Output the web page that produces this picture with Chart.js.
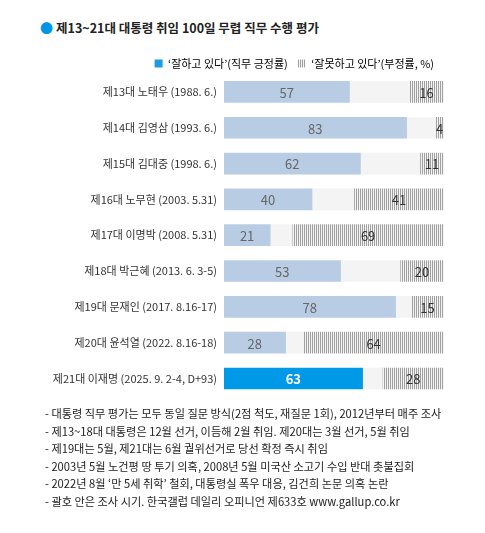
<!DOCTYPE html>
<html><head><meta charset="utf-8">
<script src="https://cdn.jsdelivr.net/npm/chart.js@4"></script>
<style>
html,body{margin:0;padding:0;background:#fff;width:485px;height:533px;overflow:hidden;font-family:"Noto Sans CJK KR","Noto Sans",sans-serif;}
#title{position:absolute;left:40px;top:18px;font-size:12.5px;font-weight:bold;color:#222;white-space:nowrap;}
#title .dot{color:#0096e6;font-size:13px;margin-right:3px;}
#wrap{position:absolute;left:0;top:44px;width:485px;height:366px;}
#notes{position:absolute;left:45px;top:405px;font-size:11.2px;color:#222;line-height:17.6px;white-space:nowrap;}
</style></head><body>
<div id="title"><span class="dot">●</span>제13~21대 대통령 취임 100일 무렵 직무 수행 평가</div>
<div id="wrap"><canvas id="c"></canvas></div>
<div id="notes">
<div>- 대통령 직무 평가는 모두 동일 질문 방식(2점 척도, 재질문 1회), 2012년부터 매주 조사</div>
<div>- 제13~18대 대통령은 12월 선거, 이듬해 2월 취임. 제20대는 3월 선거, 5월 취임</div>
<div>- 제19대는 5월, 제21대는 6월 궐위선거로 당선 확정 즉시 취임</div>
<div>- 2003년 5월 노건평 땅 투기 의혹, 2008년 5월 미국산 소고기 수입 반대 촛불집회</div>
<div>- 2022년 8월 ‘만 5세 취학’ 철회, 대통령실 폭우 대응, 김건희 논문 의혹 논란</div>
<div>- 괄호 안은 조사 시기. 한국갤럽 데일리 오피니언 제633호 www.gallup.co.kr</div>
</div>
<script>
const categories = [
  "제13대 노태우 (1988. 6.)",
  "제14대 김영삼 (1993. 6.)",
  "제15대 김대중 (1998. 6.)",
  "제16대 노무현 (2003. 5.31)",
  "제17대 이명박 (2008. 5.31)",
  "제18대 박근혜 (2013. 6. 3-5)",
  "제19대 문재인 (2017. 8.16-17)",
  "제20대 윤석열 (2022. 8.16-18)",
  "제21대 이재명 (2025. 9. 2-4, D+93)"
];
const positive = [57, 83, 62, 40, 21, 53, 78, 28, 63];
const negative = [16, 4, 11, 41, 69, 20, 15, 64, 28];
const seriesNames = ["‘잘하고 있다’(직무 긍정률)", "‘잘못하고 있다’(부정률, %)"];

const gap = positive.map((p, i) => 100 - p - negative[i]);

function hatch() {
  const cv = document.createElement('canvas');
  cv.width = 2; cv.height = 2;
  const g = cv.getContext('2d');
  g.fillStyle = '#f4f4f4'; g.fillRect(0, 0, 2, 2);
  g.fillStyle = '#a0a0a0'; g.fillRect(0, 0, 1, 2);
  return g.createPattern(cv, 'repeat');
}
const hatchPat = hatch();
const posColors = positive.map((v, i) => i === positive.length - 1 ? '#0099e8' : '#b8cce4');

const labelPlugin = {
  id: 'vals',
  afterDatasetsDraw(chart) {
    const ctx = chart.ctx;
    ctx.save();
    ctx.textAlign = 'center';
    ctx.textBaseline = 'middle';
    [0, 2].forEach(di => {
      const meta = chart.getDatasetMeta(di);
      const data = chart.data.datasets[di].data;
      meta.data.forEach((el, i) => {
        const last = i === data.length - 1;
        if (di === 0 && last) {
          ctx.fillStyle = '#ffffff';
          ctx.font = 'bold 13px "Noto Sans CJK KR", sans-serif';
        } else {
          ctx.fillStyle = di === 0 ? '#666666' : '#333333';
          ctx.font = '13px "Noto Sans CJK KR", sans-serif';
        }
        const x = (el.x + el.base) / 2;
        ctx.fillText(String(data[i]), x, el.y + 1);
      });
    });
    ctx.restore();
  }
};

const legendShrink = {
  id: 'legendShrink',
  afterInit(chart) {
    const lg = chart.legend;
    if (!lg) return;
    const fit = lg.fit;
    lg.fit = function () { fit.call(this); this.height -= 5; };
  }
};

new Chart(document.getElementById('c'), {
  type: 'bar',
  data: {
    labels: categories,
    datasets: [
      { label: seriesNames[0], data: positive, backgroundColor: posColors, barThickness: 21 },
      { label: 'gap', data: gap, backgroundColor: '#f4f4f4', barThickness: 21 },
      { label: seriesNames[1], data: negative, backgroundColor: hatchPat, barThickness: 21 }
    ]
  },
  options: {
    indexAxis: 'y',
    responsive: true,
    maintainAspectRatio: false,
    animation: false,
    layout: { padding: { left: 0, right: 41, top: 4, bottom: 0 } },
    scales: {
      x: { stacked: true, min: 0, max: 100, display: false },
      y: {
        stacked: true,
        grid: { display: false, drawTicks: false },
        border: { display: false },
        ticks: { color: '#333', font: { size: 11, family: '"Noto Sans CJK KR", sans-serif' }, padding: 7 },
        afterFit(s) { s.width = 224; }
      }
    },
    plugins: {
      legend: {
        position: 'top',
        align: 'end',
        labels: {
          filter: (item) => item.datasetIndex !== 1,
          boxWidth: 8, boxHeight: 8,
          color: '#333',
          font: { size: 11, family: '"Noto Sans CJK KR", sans-serif' },
          padding: 10,
          generateLabels(chart) {
            const ds = chart.data.datasets;
            return [0, 2].map(i => ({
              text: ds[i].label,
              fillStyle: i === 0 ? '#1e9be0' : hatchPat,
              strokeStyle: 'transparent',
              lineWidth: 0,
              datasetIndex: i
            }));
          }
        }
      },
      tooltip: { enabled: false }
    }
  },
  plugins: [labelPlugin, legendShrink]
});
</script>
</body></html>
